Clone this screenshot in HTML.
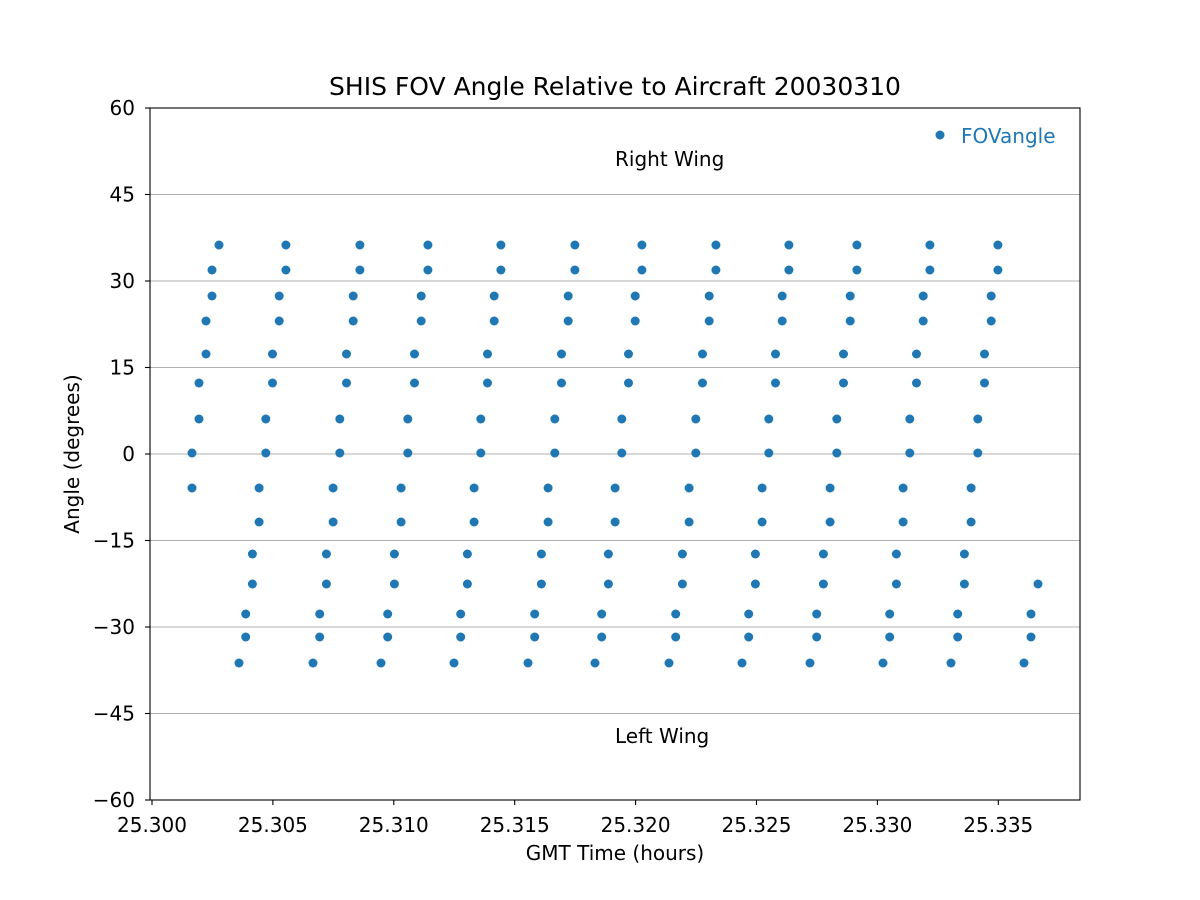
<!DOCTYPE html>
<html><head><meta charset="utf-8"><style>
html,body{margin:0;padding:0;background:#fff}
svg{display:block;font-family:"DejaVu Sans","Liberation Sans",sans-serif}
</style></head><body>
<svg id="s" width="1200" height="900" viewBox="0 0 1200 900" xmlns="http://www.w3.org/2000/svg">
<rect width="1200" height="900" fill="#fff"/>
<g stroke="#b0b0b0" stroke-width="1.1">
<line x1="150" x2="1080" y1="194.5" y2="194.5"/>
<line x1="150" x2="1080" y1="281" y2="281"/>
<line x1="150" x2="1080" y1="367.5" y2="367.5"/>
<line x1="150" x2="1080" y1="454" y2="454"/>
<line x1="150" x2="1080" y1="540.5" y2="540.5"/>
<line x1="150" x2="1080" y1="627" y2="627"/>
<line x1="150" x2="1080" y1="713.5" y2="713.5"/>
</g>
<g id="dots" fill="#1f77b4"></g>
<rect x="150" y="108" width="930" height="692" fill="none" stroke="#000" stroke-width="1.1"/>
<g stroke="#000" stroke-width="1.1" id="ticks"></g>
<g font-size="20" fill="#000" text-anchor="end">
<text x="135" y="115">60</text>
<text x="135" y="201.5">45</text>
<text x="135" y="288">30</text>
<text x="135" y="374.5">15</text>
<text x="135" y="461">0</text>
<text x="135" y="547.5">−15</text>
<text x="135" y="634">−30</text>
<text x="135" y="720.5">−45</text>
<text x="135" y="807">−60</text>
</g>
<g font-size="20" fill="#000" text-anchor="middle" id="xl"></g>
<text x="615" y="95" font-size="25" text-anchor="middle">SHIS FOV Angle Relative to Aircraft 20030310</text>
<text x="615" y="860" font-size="20" text-anchor="middle">GMT Time (hours)</text>
<text transform="translate(79,454) rotate(-90)" font-size="20" text-anchor="middle">Angle (degrees)</text>
<text x="615" y="166" font-size="20">Right Wing</text>
<text x="615" y="743" font-size="20">Left Wing</text>
<circle cx="940" cy="135" r="4.5" fill="#1f77b4"/>
<text x="961" y="143" font-size="20" fill="#1f77b4">FOVangle</text>
</svg>
<script>
var ys=[663,637,614,584,554,522,488,453,419,383,354,321,296,270,245];
var g=document.getElementById('dots'),h='';
function d(x,y){h+='<circle cx="'+x+'" cy="'+y+'" r="4.5"/>';}
var f=[[192,488],[192,453],[199,419],[199,383],[206,354],[206,321],[212,296],[212,270],[219,245]];
f.forEach(function(p){d(p[0],p[1]);});
var st=[239,313,381,454,528,595,669,742,810,883,951];
st.forEach(function(s){for(var i=0;i<15;i++){d(s+Math.ceil(i/2)*6.7,ys[i]);}});
for(var i=0;i<4;i++){d(1024+Math.ceil(i/2)*7,ys[i]);}
g.innerHTML=h;
var t='',l='';
for(var k=0;k<8;k++){var x=152+k*120.9;t+='<line x1="'+x+'" x2="'+x+'" y1="800" y2="805"/>';l+='<text x="'+x+'" y="832">'+(25.300+k*0.005).toFixed(3)+'</text>';}
[108,194.5,281,367.5,454,540.5,627,713.5,800].forEach(function(y){t+='<line x1="145" x2="150" y1="'+y+'" y2="'+y+'"/>';});
document.getElementById('ticks').innerHTML=t;
document.getElementById('xl').innerHTML=l;
</script>
</body></html>
